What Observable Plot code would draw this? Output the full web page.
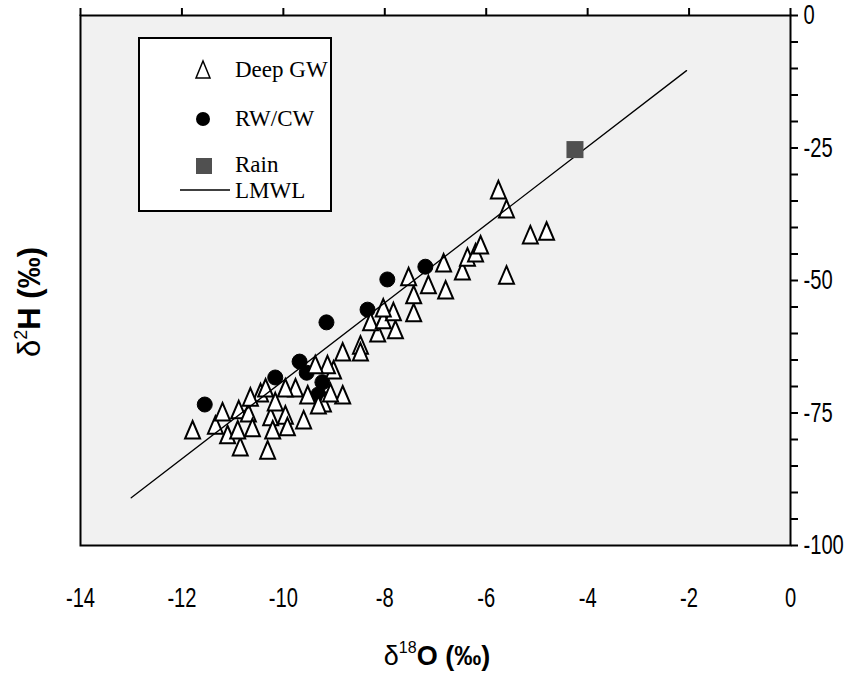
<!DOCTYPE html>
<html>
<head>
<meta charset="utf-8">
<script src="https://cdn.jsdelivr.net/npm/d3@7"></script>
<script src="https://cdn.jsdelivr.net/npm/@observablehq/plot@0.6"></script>
<style>
  html, body { margin: 0; padding: 0; background: #fff; }
  #wrap { position: relative; width: 859px; height: 675px; }
  #legend { position: absolute; left: 138px; top: 37px; width: 194px; height: 175px;
            border: 2px solid #000; background: #fff; box-sizing: border-box;
            font-family: "Liberation Serif", "Times New Roman", serif; font-size: 23px; }
  #legend .row { position: absolute; left: 0; width: 100%; height: 30px; white-space: nowrap; }
  #legend .row svg { position: absolute; left: 40px; top: 0; }
  #legend .row span { position: absolute; left: 95px; top: 1px; line-height: 28px; white-space: nowrap; }
</style>
</head>
<body>
<div id="wrap"></div>
<script>
// ---- data ----
const deepX = [-11.79, -11.10, -10.85, -10.31, -10.88, -10.69, -10.61, -10.90, -10.45, -10.65,
               -10.25, -9.96, -9.92, -9.60, -9.76, -10.16, -9.21, -9.52, -8.83, -9.07,
               -9.01, -8.83, -8.48, -9.13, -9.37, -8.48, -8.14, -8.28, -8.03, -7.79,
               -7.83, -8.03, -7.43, -7.43, -7.53, -7.14, -6.80, -6.84, -6.47, -6.37,
               -6.21, -6.11, -5.76, -5.60, -5.13, -4.81, -5.60, -10.35, -9.96, -11.34,
               -11.20, -10.21, -9.31];
const deepY = [-78.3, -79.2, -81.5, -82.1, -74.5, -75.1, -77.9, -78.3, -71.3, -72.1,
               -75.8, -75.5, -77.7, -76.4, -70.4, -73.0, -73.2, -71.7, -71.7, -71.3,
               -67.0, -63.6, -62.3, -66.0, -66.0, -63.6, -60.0, -57.9, -57.5, -59.4,
               -56.0, -55.3, -56.2, -52.8, -49.4, -50.9, -51.9, -46.8, -48.3, -45.7,
               -44.9, -43.4, -33.0, -36.6, -41.5, -40.8, -49.1, -70.4, -70.4, -77.4,
               -74.9, -78.3, -73.6];
const rwX = [-11.55, -10.16, -9.68, -9.54, -9.23, -9.31, -9.15, -8.34, -7.95, -7.20];
const rwY = [-73.4, -68.3, -65.3, -67.4, -69.2, -71.5, -57.9, -55.5, -49.8, -47.4];
const rainX = [-4.25];
const rainY = [-25.3];
const lmwlX = [-13.0, -2.05];
const lmwlY = [-91.0, -10.4];
const xTicks = [-14, -12, -10, -8, -6, -4, -2, 0];
const yTicks = [0, -25, -50, -75, -100];
const yMinor = [0, -5, -10, -15, -20, -25, -30, -35, -40, -45, -50, -55, -60, -65, -70, -75, -80, -85, -90, -95, -100];

const deep = deepX.map((x, i) => ({x, y: deepY[i]}));
const rw = rwX.map((x, i) => ({x, y: rwY[i]}));
const rain = rainX.map((x, i) => ({x, y: rainY[i]}));
const lmwl = lmwlX.map((x, i) => ({x, y: lmwlY[i]}));

const tallTriangle = {
  draw(ctx) {
    ctx.moveTo(0, -9.5);
    ctx.lineTo(7.5, 8);
    ctx.lineTo(-7.5, 8);
    ctx.closePath();
  }
};

const tickFont = '"Liberation Sans", Arial, sans-serif';

const chart = Plot.plot({
  width: 859,
  height: 675,
  marginLeft: 80,
  marginRight: 69,
  marginTop: 15,
  marginBottom: 130,
  style: { background: "#fff", fontFamily: tickFont, fontSize: "28px", color: "#000" },
  x: { domain: [-14, 0] },
  y: { domain: [-100, 0] },
  marks: [
    Plot.frame({ fill: "#f1f1f1", stroke: null }),
    Plot.axisX({ anchor: "bottom", ticks: xTicks, tickSize: 0, tickPadding: 42,
                 tickFormat: d => String(d), label: null, fontSize: 28 }),
    Plot.axisX({ anchor: "top", ticks: xTicks, tickSize: 8, text: null, label: null,
                 strokeWidth: 2 }),
    Plot.axisY({ anchor: "right", ticks: yMinor, tickSize: 7, tickPadding: 6,
                 tickFormat: d => (d % 25 === 0 ? String(d) : ""), label: null,
                 strokeWidth: 2, fontSize: 28 }),
    Plot.dot(rw, { x: "x", y: "y", r: 7.5, fill: "#000", stroke: "#000", strokeWidth: 1 }),
    Plot.dot(deep, { x: "x", y: "y", symbol: tallTriangle, fill: "#fff", stroke: "#000", strokeWidth: 2 }),
    Plot.line(lmwl, { x: "x", y: "y", stroke: "#000", strokeWidth: 1.3 }),
    Plot.dot(rain, { x: "x", y: "y", symbol: "square", r: 9.6, fill: "#505050", stroke: "none" }),
    Plot.frame({ stroke: "#000", strokeWidth: 2 })
  ]
});

const wrap = document.getElementById("wrap");
wrap.appendChild(chart);

const svg = d3.select(chart);

// condense tick labels horizontally (the original uses a narrow face)
svg.selectAll('g[aria-label="x-axis tick label"] text, g[aria-label="y-axis tick label"] text')
  .each(function () {
    const ax = +(this.getAttribute("x") || 0);
    const prev = this.getAttribute("transform") || "";
    this.setAttribute("transform", `${prev} translate(${ax},0) scale(0.72,1) translate(${-ax},0)`);
  });

// axis titles with superscripts
const titleFont = '"Liberation Sans", Arial, sans-serif';
const xt = svg.append("text")
  .attr("x", 437).attr("y", 665)
  .attr("text-anchor", "middle")
  .attr("font-family", titleFont).attr("font-size", 27).attr("font-weight", "bold")
  .attr("fill", "#000");
xt.append("tspan").attr("font-weight", "normal").text("δ");
xt.append("tspan").attr("font-size", 16).attr("font-weight", "normal").attr("dy", -12).text("18");
xt.append("tspan").attr("dy", 12).text("O (‰)");

const yt = svg.append("text")
  .attr("transform", "translate(40,302) rotate(-90)")
  .attr("text-anchor", "middle")
  .attr("font-family", titleFont).attr("font-size", 31).attr("font-weight", "bold")
  .attr("fill", "#000");
yt.append("tspan").attr("font-weight", "normal").text("δ");
yt.append("tspan").attr("font-size", 18).attr("font-weight", "normal").attr("dy", -13).text("2");
yt.append("tspan").attr("dy", 13).text("H (‰)");

// legend overlay
const legendItems = [
  { label: "Deep GW", kind: "tri", top: 16 },
  { label: "RW/CW", kind: "dot", top: 65 },
  { label: "Rain", kind: "sq", top: 111 },
  { label: "LMWL", kind: "line", top: 137 }
];
const legend = document.createElement("div");
legend.id = "legend";
for (const it of legendItems) {
  const row = document.createElement("div");
  row.className = "row";
  row.style.top = it.top + "px";
  let sym = "";
  if (it.kind === "tri") sym = '<svg width="50" height="30"><path d="M23,6 L30,23 L16,23 Z" fill="#fff" stroke="#000" stroke-width="1.5"/></svg>';
  if (it.kind === "dot") sym = '<svg width="50" height="30"><circle cx="23" cy="15" r="7" fill="#000"/></svg>';
  if (it.kind === "sq") sym = '<svg width="50" height="30"><rect x="16" y="8" width="16" height="16" fill="#505050"/></svg>';
  if (it.kind === "line") sym = '<svg width="50" height="30"><line x1="0" y1="14" x2="50" y2="14" stroke="#000" stroke-width="1.3"/></svg>';
  row.innerHTML = sym + "<span>" + it.label + "</span>";
  legend.appendChild(row);
}
wrap.appendChild(legend);
</script>
</body>
</html>
